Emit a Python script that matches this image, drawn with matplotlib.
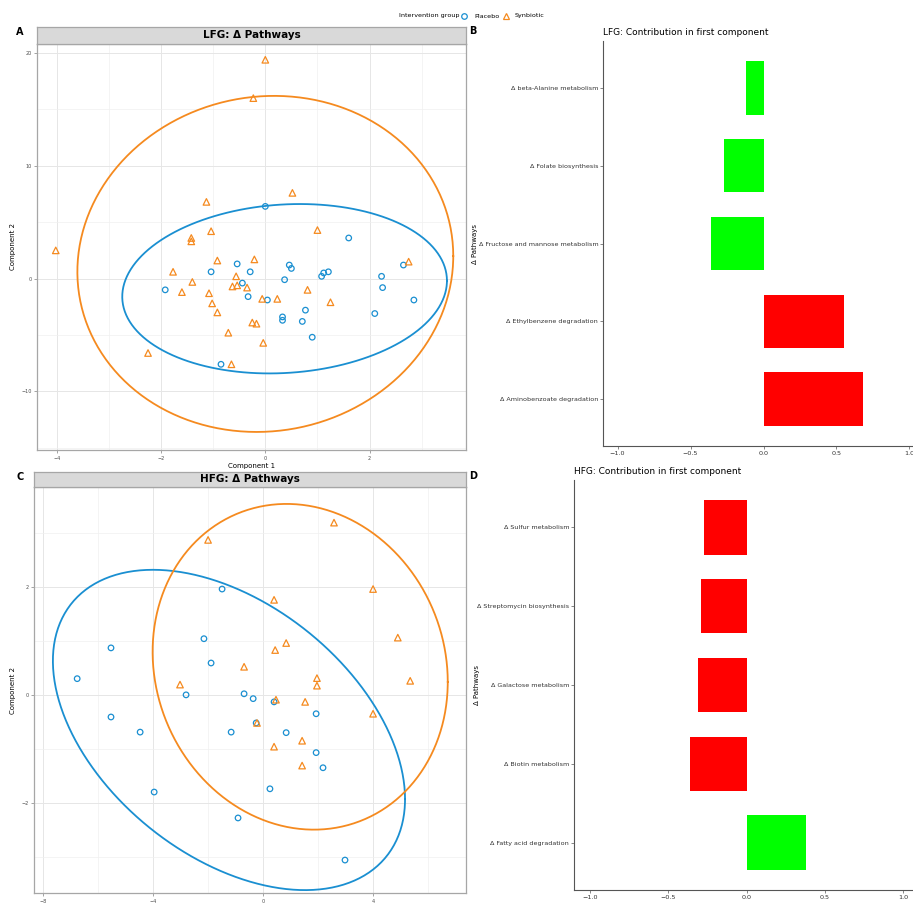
import numpy as np
import matplotlib.pyplot as plt
from matplotlib.lines import Line2D

# ---------------- data ----------------
# panel A (LFG) scores
lfg_placebo_x = [0.0, 1.6, -1.92, -1.04, -0.54, -0.44, -0.29, -0.33, 0.04, 0.37, 0.46, 0.5,
                 0.33, 0.33, 0.71, 0.77, 0.9, 1.12, 1.21, 1.08, 2.23, 2.25, 2.1, 2.65, 2.85, -0.85]
lfg_placebo_y = [6.4, 3.6, -1.0, 0.6, 1.3, -0.4, 0.6, -1.6, -1.9, -0.1, 1.2, 0.9,
                 -3.4, -3.7, -3.8, -2.8, -5.2, 0.5, 0.6, 0.2, 0.2, -0.8, -3.1, 1.2, -1.9, -7.6]
lfg_synb_x = [-4.02, 0.0, -0.23, 0.52, -1.13, -1.04, -1.42, -1.42, 1.0, -1.77, -0.92, -0.21,
              -0.56, -1.4, -1.6, -1.08, -0.63, -0.54, -0.35, -0.06, 0.23, 0.81, 1.25, -1.02,
              -0.92, -0.25, -0.17, -0.71, -0.04, -0.65, -2.25, 2.75]
lfg_synb_y = [2.5, 19.4, 16.0, 7.6, 6.8, 4.2, 3.6, 3.3, 4.3, 0.6, 1.6, 1.7,
              0.2, -0.3, -1.2, -1.3, -0.7, -0.6, -0.8, -1.8, -1.8, -1.0, -2.1, -2.2,
              -3.0, -3.9, -4.0, -4.8, -5.7, -7.6, -6.6, 1.5]
# 95% ellipses (centre, covariance)
lfg_ell_placebo = ([0.37, -0.9], [[9.7, 2.2], [2.2, 56.4]])
lfg_ell_synb = ([0.0, 1.3], [[13.0, 2.5], [2.5, 222.0]])

# panel C (HFG) scores
hfg_placebo_x = [-6.76, -5.53, -4.47, -5.53, -2.8, -2.15, -1.89, -1.49, -1.16, -0.69, -0.36,
                 -0.25, -3.96, -0.91, 0.25, 0.4, 0.84, 1.93, 1.93, 2.18, 2.98]
hfg_placebo_y = [0.3, -0.41, -0.69, 0.87, 0.0, 1.04, 0.59, 1.96, -0.69, 0.02, -0.07,
                 -0.52, -1.8, -2.28, -1.74, -0.13, -0.7, -0.35, -1.07, -1.35, -3.06]
hfg_synb_x = [-2.0, 2.58, 0.4, 4.0, 4.9, 5.35, 4.0, 0.84, 0.44, -0.69, 1.96, 1.96,
              -3.02, 0.47, 1.53, -0.22, 0.4, 1.42, 1.42]
hfg_synb_y = [2.87, 3.19, 1.76, 1.96, 1.06, 0.26, -0.35, 0.96, 0.83, 0.52, 0.31, 0.17,
              0.19, -0.09, -0.13, -0.52, -0.96, -0.85, -1.31]
hfg_ell_placebo = ([-1.24, -0.65], [[41.0, -8.2], [-8.2, 8.8]])
hfg_ell_synb = ([1.35, 0.52], [[28.8, -1.5], [-1.5, 9.1]])

# loadings
lfg_pathways = ["\u0394 beta-Alanine metabolism", "\u0394 Folate biosynthesis",
                "\u0394 Fructose and mannose metabolism", "\u0394 Ethylbenzene degradation",
                "\u0394 Aminobenzoate degradation"]
lfg_loadings = [-0.12, -0.27, -0.36, 0.55, 0.68]
lfg_group = ["green", "green", "green", "red", "red"]

hfg_pathways = ["\u0394 Sulfur metabolism", "\u0394 Streptomycin biosynthesis",
                "\u0394 Galactose metabolism", "\u0394 Biotin metabolism",
                "\u0394 Fatty acid degradation"]
hfg_loadings = [-0.27, -0.29, -0.31, -0.36, 0.38]
hfg_group = ["red", "red", "red", "red", "green"]

BLUE = '#1a8fd1'
ORANGE = '#f58a1f'
BAR_COL = {"red": '#ff0000', "green": '#00ff00'}

W, H = 913, 906
fig = plt.figure(figsize=(W / 100, H / 100), dpi=100)


def box(x0, y0, x1, y1):
    # pixel box -> figure fraction
    return [x0 / W, 1 - y1 / H, (x1 - x0) / W, (y1 - y0) / H]


def ellipse(ax, ell, color):
    c, cov = ell
    L = np.linalg.cholesky(np.array(cov))
    t = np.linspace(0, 2 * np.pi, 300)
    pts = L @ np.vstack([np.cos(t), np.sin(t)])
    ax.plot(pts[0] + c[0], pts[1] + c[1], color=color, lw=1.3, zorder=2)


def scatter_panel(rect, strip, title, px, py, sx, sy, ep, es, xlim, ylim, xmaj, ymaj):
    ax = fig.add_axes(box(*rect))
    ax.scatter(px, py, marker='o', s=16, facecolors='none', edgecolors=BLUE, linewidths=0.9, zorder=3)
    ax.scatter(sx, sy, marker='^', s=22, facecolors='none', edgecolors=ORANGE, linewidths=0.9, zorder=3)
    ellipse(ax, ep, BLUE)
    ellipse(ax, es, ORANGE)
    ax.set_xticks(xmaj)
    ax.set_yticks(ymaj)
    dx = xmaj[1] - xmaj[0]
    dy = ymaj[1] - ymaj[0]
    ax.set_xticks(np.arange(xmaj[0] - dx / 2, xlim[1], dx), minor=True)
    ax.set_yticks(np.arange(ymaj[0] - dy / 2, ylim[1], dy), minor=True)
    ax.set_xlim(*xlim)
    ax.set_ylim(*ylim)
    ax.grid(which='major', color='#e6e6e6', lw=0.7)
    ax.grid(which='minor', color='#f0f0f0', lw=0.5)
    ax.set_axisbelow(True)
    ax.tick_params(which='major', labelsize=3.5, length=2, width=0.5, colors='#7f7f7f', labelcolor='#4d4d4d', pad=2)
    ax.tick_params(which='minor', length=0)
    for s in ax.spines.values():
        s.set_color('#a6a6a6')
        s.set_linewidth(0.9)
    ax.set_xlabel('Component 1', fontsize=5, labelpad=2)
    ax.set_ylabel('Component 2', fontsize=5, labelpad=4)
    # strip
    sax = fig.add_axes(box(rect[0], strip[0], rect[2], strip[1]))
    sax.set_facecolor('#d9d9d9')
    sax.set_xticks([])
    sax.set_yticks([])
    for s in sax.spines.values():
        s.set_color('#a6a6a6')
        s.set_linewidth(0.9)
    sax.text(0.5, 0.5, title, ha='center', va='center', fontsize=7.5, fontweight='bold',
             transform=sax.transAxes)
    return ax


def bar_panel(rect, title, labels, vals, groups, ylab_x):
    ax = fig.add_axes(box(*rect))
    n = len(labels)
    ypos = np.arange(n)[::-1]
    ax.barh(ypos, vals, height=0.69, color=[BAR_COL[g] for g in groups])
    ax.set_yticks(ypos)
    ax.set_yticklabels(labels)
    ax.set_ylim(-0.6, n - 0.4)
    ax.set_xlim(-1.1, 1.1)
    ax.set_xticks([-1.0, -0.5, 0.0, 0.5, 1.0])
    ax.set_xticklabels(['\u22121.0', '\u22120.5', '0.0', '0.5', '1.0'])
    for s in ['top', 'right']:
        ax.spines[s].set_visible(False)
    for s in ['left', 'bottom']:
        ax.spines[s].set_color('#555555')
        ax.spines[s].set_linewidth(0.8)
    ax.tick_params(labelsize=4.6, length=2, width=0.5, colors='#555555', labelcolor='#333333', pad=1.5)
    ax.set_ylabel('\u0394 Pathways', fontsize=5)
    ax.yaxis.set_label_coords((ylab_x - rect[0]) / (rect[2] - rect[0]), 0.5)
    ax.set_title(title, fontsize=6.5, loc='left', pad=4, x=0.0)
    return ax


scatter_panel((37, 44, 466, 450), (27, 44), 'LFG: \u0394 Pathways',
              lfg_placebo_x, lfg_placebo_y, lfg_synb_x, lfg_synb_y,
              lfg_ell_placebo, lfg_ell_synb, (-4.38, 3.85), (-15.2, 20.8),
              [-4, -2, 0, 2], [-10, 0, 10, 20])
scatter_panel((34, 487, 466, 893), (472, 487), 'HFG: \u0394 Pathways',
              hfg_placebo_x, hfg_placebo_y, hfg_synb_x, hfg_synb_y,
              hfg_ell_placebo, hfg_ell_synb, (-8.33, 7.38), (-3.67, 3.85),
              [-8, -4, 0, 4], [-2, 0, 2])

bar_panel((603, 41, 924, 446), 'LFG: Contribution in first component',
          lfg_pathways, lfg_loadings, lfg_group, 478)
bar_panel((574, 480, 919, 890), 'HFG: Contribution in first component',
          hfg_pathways, hfg_loadings, hfg_group, 480)

# panel letters
for lab, x, y in [('A', 20, 32), ('B', 473, 31), ('C', 20, 477), ('D', 473, 476)]:
    fig.text(x / W, 1 - y / H, lab, fontsize=7, fontweight='bold', ha='center', va='center')

# legend (drawn by hand to sit on one row like the ggplot guide)
ly = 1 - 16 / H
fig.text(399 / W, ly, 'Intervention group', fontsize=4.6, ha='left', va='center')
fig.add_artist(Line2D([464 / W], [ly], marker='o', ls='', mfc='none', mec=BLUE, ms=4, mew=0.9,
                      transform=fig.transFigure))
fig.text(474 / W, ly, 'Placebo', fontsize=4.6, ha='left', va='center')
fig.add_artist(Line2D([506 / W], [ly], marker='^', ls='', mfc='none', mec=ORANGE, ms=4.5, mew=0.9,
                      transform=fig.transFigure))
fig.text(515 / W, ly, 'Synbiotic', fontsize=4.6, ha='left', va='center')

fig.savefig('out.png', dpi=100)
